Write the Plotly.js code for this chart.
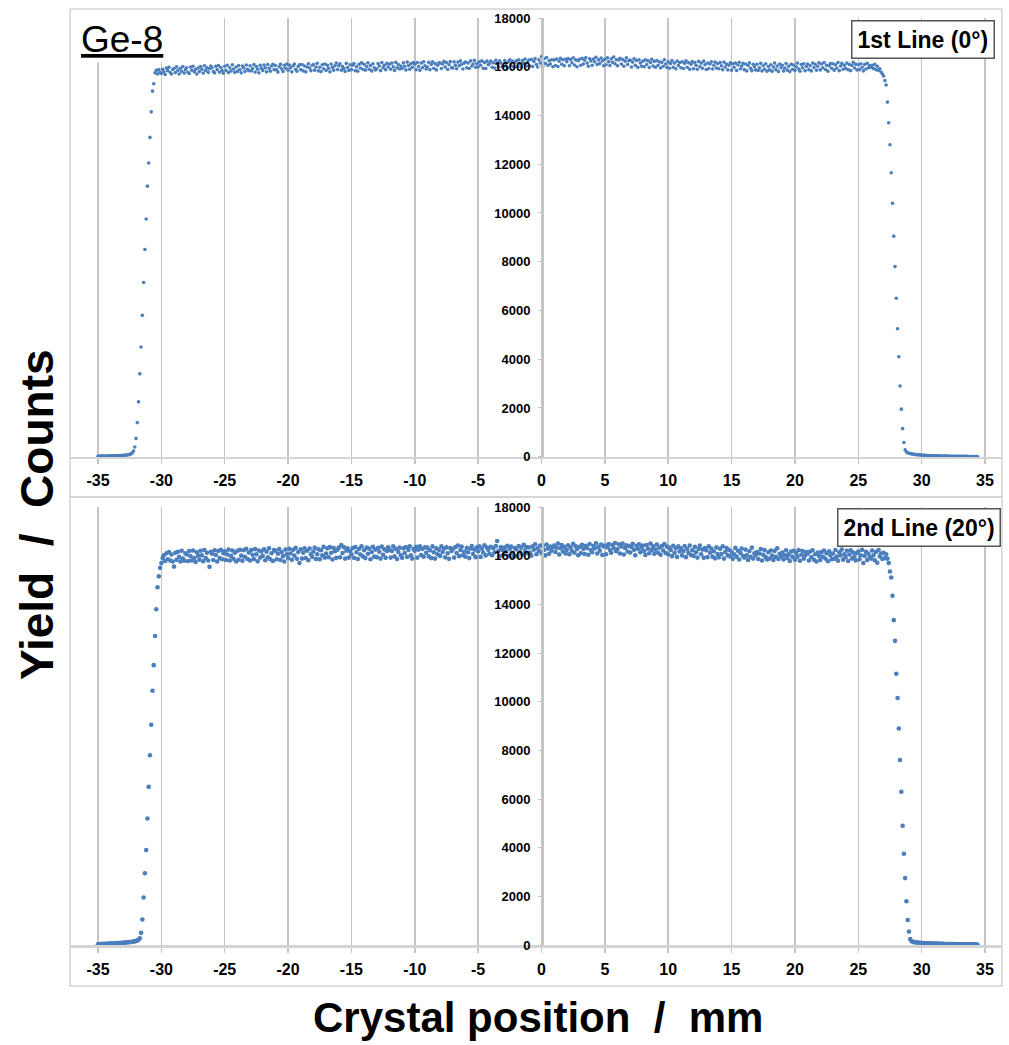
<!DOCTYPE html>
<html>
<head>
<meta charset="utf-8">
<script src="https://cdn.plot.ly/plotly-3.0.1.min.js"></script>
<style>html,body{margin:0;padding:0;background:#fff;}#chart{width:1009px;height:1045px;}</style>
</head>
<body>
<div id="chart"></div>
<script>
// Sample positions: first point and step along the crystal (mm)
const xStart = -35;
const xStep = 0.1;

// Yield counts, 1st line (0°) — each row is 1 mm (10 samples), starting at -35 mm
const yieldLine1 = [
  20,22,25,22,28,25,30,28,32,30,
  35,33,38,40,36,42,45,43,48,50,
  55,60,65,72,82,95,115,150,230,400,
  750,1400,2250,3400,4500,5800,7150,8500,9750,11100,
  12050,13100,14150,15000,15300,15750,15850,15700,15880,15760,
  15720,15900,15790,15680,15950,15840,15980,15760,15700,15890,
  15930,15760,16000,15850,15700,15940,15810,16010,15740,15880,
  15960,15770,15720,15990,15860,16020,15790,15900,15700,15950,
  15800,16010,15900,15740,16040,15850,15960,15770,15920,16030,
  15960,15800,15750,16020,15880,16050,15780,15970,15840,15730,
  16020,15850,16060,15760,15960,15830,16080,15910,15770,15990,
  15810,16050,15880,15750,16030,15950,15800,16070,15900,15840,
  16040,15830,15930,16090,15780,16010,15900,15750,16060,15940,
  15850,16070,15960,15790,16090,15940,15820,16030,16100,15880,
  16050,15870,15780,16000,16100,15920,15810,16060,15940,16110,
  15860,16070,15960,15790,16040,16110,15900,15820,16010,16080,
  15880,16090,15830,16030,15790,15990,16120,15950,15840,16060,
  16090,15860,15990,16140,15830,15980,15800,16080,15920,16110,
  15850,16060,15940,15790,16110,15980,15860,16040,16150,15890,
  16040,16120,15860,16010,15930,15810,16140,15970,15850,16080,
  15880,16060,16130,15840,16000,15820,16100,15950,16160,15900,
  16100,15860,16010,16160,15900,16050,15830,16120,15960,15870,
  15920,16130,16030,15840,16170,15960,16060,15880,16140,15990,
  16110,15900,16150,16000,15850,16180,15960,16090,15910,16030,
  15930,16160,16020,15870,16190,16050,15900,16130,15980,16170,
  16100,15880,16170,16010,15860,16150,15960,16200,16040,15910,
  15990,16180,15880,16090,16200,15940,16130,15870,16060,16160,
  16150,15930,16110,16220,15990,16170,15890,16080,16210,15960,
  15950,16200,16060,15920,16190,16040,16240,16100,15910,16150,
  16190,15960,16150,15930,16240,16030,16110,16260,15980,16130,
  15990,16200,16060,16240,15940,16170,15930,16230,16080,16120,
  16230,15980,16160,15950,16260,16110,15990,16240,16150,16000,
  16020,16250,16130,15960,16210,16290,16050,16230,15990,16170,
  16240,16000,16280,16110,15980,16250,16140,16320,16030,16190,
  16270,16030,16300,16010,16220,16340,16090,15990,16280,16150,
  16420,16020,16330,16140,16380,16060,16250,16110,16290,16000,
  16280,16050,16320,16010,16230,16350,16100,16290,16040,16310,
  16210,16340,16040,16300,16160,16370,16070,16280,16000,16250,
  16310,16060,16350,16110,16270,16380,16150,16020,16330,16240,
  16060,16320,16200,16390,16090,16280,16130,16360,16240,16040,
  16310,16080,16370,16210,16050,16330,16180,16400,16120,16290,
  16040,16280,16350,16110,16300,16020,16230,16370,16090,16250,
  16270,15990,16190,16330,16060,16260,15980,16290,16150,16020,
  16230,16000,16280,16090,16250,15970,16170,16310,16030,16220,
  15980,16250,16060,16200,15950,16180,16020,16290,16110,15970,
  16200,15940,16130,16250,15980,16150,15920,16230,16050,16170,
  15960,16200,15930,16140,16240,15980,16170,15900,16100,16210,
  15920,16170,16060,15900,16220,16010,16150,15940,16230,16080,
  15890,16150,15930,16110,16200,15910,16060,16190,15950,16130,
  15920,16170,16040,15880,16190,15990,16110,15870,16060,16160,
  15860,16120,15980,16150,15850,16070,16180,15920,16030,16140,
  15880,16110,15830,16050,16160,15940,15840,16100,16000,15870,
  16100,15850,15960,16140,15830,16040,15900,16120,15820,16010,
  15870,16080,15820,15990,16150,15880,16030,15810,16110,15960,
  16060,15830,15950,16130,15860,16020,15800,16100,15900,16070,
  15850,16000,16150,15910,15820,16090,15960,16120,15840,16010,
  16110,15880,16040,15830,16150,15970,16100,15860,16020,16160,
  15870,16110,15960,16170,15890,16060,15820,16040,16130,15940,
  16120,15860,16080,15950,16170,15840,16030,16140,15900,16060,
  15930,16150,15880,16090,15840,16050,16180,15950,16100,15870,
  16080,15880,16120,15980,15830,16090,15910,16140,15960,16050,
  15970,16060,15930,16100,15880,16020,15850,15920,15780,15700,
  15620,15430,15250,14550,13700,12800,11650,10400,9050,7800,
  6500,5250,4100,2900,1950,1150,580,280,190,160,
  140,130,115,110,100,90,85,80,75,70,
  65,60,58,55,52,50,47,45,42,40,
  38,36,35,33,32,30,28,27,26,25,
  24,22,21,20,20,19,18,17,16,16,
  15,15,14,13,13,12,12,11,11,10,
  10,10,9,9,8
];

// Yield counts, 2nd line (20°) — each row is 1 mm (10 samples), starting at -35 mm
const yieldLine2 = [
  30,35,40,38,45,42,50,48,55,52,
  60,58,65,70,68,75,80,78,85,90,
  95,100,98,110,115,120,125,130,140,150,
  165,190,220,280,500,1050,1950,2950,3900,5200,
  6500,7800,9050,10450,11500,12700,13800,14700,15150,15500,
  15700,15900,16020,15780,16100,15850,16150,15800,16050,15760,
  15550,16120,15830,16160,15950,15760,16200,15880,15790,16100,
  16050,15780,16190,15980,15800,16210,15900,15740,16140,16000,
  15830,16200,16010,15770,16230,15900,16120,15800,15540,16160,
  16080,15820,16220,16030,15760,16190,15900,16240,15850,16100,
  16180,15820,16050,16250,15800,15990,16210,15870,16120,15760,
  16200,15830,16240,16000,15790,16220,15950,16280,15860,16130,
  15800,16230,16040,15860,16270,16060,15770,16210,15920,16170,
  15990,16260,15810,16160,15930,16300,15850,16100,15780,16230,
  16200,15850,16080,16270,15820,16150,15980,15760,16250,16060,
  15900,16280,16090,15830,16240,16000,16320,15870,16150,15700,
  16260,15880,16120,16300,15900,16200,15810,16290,16060,15950,
  16170,16330,15860,16060,16260,15850,16220,16010,16360,15920,
  16090,16300,15940,16350,16120,15840,16310,16180,15910,16240,
  16330,15930,16440,16110,16350,15880,16200,16300,15920,16180,
  16060,16310,15910,16350,16140,15860,16280,16050,16380,15970,
  16220,15900,16330,16080,16290,15850,16150,16360,15960,16250,
  15940,16320,16160,15880,16370,16040,16260,15910,16190,16340,
  16240,15920,16190,16380,15970,16280,15860,16150,16330,16020,
  15910,16300,16110,16350,15950,16230,16390,16010,15880,16270,
  16200,16360,15920,16250,16390,16030,16280,15960,16340,16120,
  16330,15970,16220,15900,16380,16140,15880,16300,16060,16240,
  15990,16380,16150,16290,15930,16340,16100,15870,16310,16190,
  16270,15920,16350,16110,16420,15980,16230,16370,16020,16160,
  15960,16320,16140,15900,16290,16400,16070,16250,15940,16340,
  16180,16380,15950,16290,16130,16430,16010,16330,16240,16080,
  16360,16020,16310,16140,16400,16600,16200,15980,16350,16230,
  16050,16330,16180,16410,15990,16280,16370,16120,15960,16310,
  16260,15990,16400,16150,16330,16040,16450,16190,16350,16100,
  16340,16130,16000,16380,16250,16470,16060,16300,16180,16420,
  16120,16400,16230,16010,16460,16290,16080,16370,16200,16350,
  16420,16150,16330,16500,16050,16300,16440,16170,16360,16090,
  16240,16430,16060,16340,16190,16490,16120,16390,16270,16020,
  16360,16110,16450,16280,16070,16410,16310,16040,16480,16230,
  16140,16400,16300,16510,16090,16350,16200,16460,16030,16380,
  16420,16060,16350,16480,16230,16120,16440,16310,16520,16180,
  16270,16470,16090,16380,16500,16050,16320,16430,16170,16400,
  16130,16360,16490,16240,16020,16410,16280,16470,16140,16330,
  16420,16190,16030,16440,16290,16100,16500,16230,16390,16080,
  16250,16460,16120,16330,16040,16400,16210,16480,16110,16370,
  16060,16330,16230,15980,16410,16120,16300,15950,16380,16170,
  16300,16010,16190,16400,15940,16270,16110,16420,16030,16220,
  15990,16360,16140,15920,16280,16420,16060,16250,15910,16310,
  16220,15940,16380,16120,16290,15960,16180,15890,16340,16070,
  15930,16280,16070,16390,15880,16150,16310,16010,16240,15970,
  16160,15870,16060,16320,15960,16200,15840,16110,16290,15990,
  15920,16250,16010,15820,16180,15950,16330,15880,16100,16020,
  16150,15860,16090,16270,15800,16040,16230,15940,15840,16140,
  15880,16210,16000,15820,16190,15950,16300,15860,16080,15970,
  16130,15840,16020,16220,15900,16060,15780,16170,15960,16200,
  15830,16120,15960,16230,15790,16040,16190,15880,16010,16150,
  16080,15800,16170,15940,16220,15830,16060,15760,16130,15990,
  15820,16150,15960,16210,15880,16100,15770,16180,16020,15850,
  16090,15870,16230,15960,15790,16140,16010,16250,15830,16060,
  15940,16200,15780,16050,16220,15880,16130,15960,15800,16110,
  16170,15850,16020,16240,15700,15990,16160,15820,16090,15950,
  15880,16210,16020,15810,16150,15710,16230,15970,16090,15860,
  16120,15900,16060,15880,15700,15350,15100,14350,13350,12500,
  11150,10150,8900,7600,6300,4900,3750,2750,1800,1030,
  550,240,160,130,120,110,105,100,95,90,
  85,80,78,75,72,70,68,65,62,60,
  58,55,55,52,50,48,48,45,44,42,
  40,40,38,37,36,35,34,33,32,31,
  30,30,29,28,28,27,26,26,25,25,
  24,24,23,23,22
];

const xTickVals = [-35,-30,-25,-20,-15,-10,-5,0,5,10,15,20,25,30,35];
const xTickText = ['-35','-30','-25','-20','-15','-10','-5','0','5','10','15','20','25','30','35'];
const yTickVals = [0,2000,4000,6000,8000,10000,12000,14000,16000,18000];
const yTickText = ['0','2000','4000','6000','8000','10000','12000','14000','16000','18000'];
const panelLabels = ['1st Line (0°)', '2nd Line (20°)'];
const sampleName = 'Ge-8';
const xTitle = 'Crystal position\u00a0\u00a0/\u00a0\u00a0mm';
const yTitle = 'Yield\u00a0\u00a0/\u00a0\u00a0Counts';

const W = 1009, H = 1045;
const px = v => v / W;
const py = v => 1 - v / H;

const FONT = 'Liberation Sans, Arial, sans-serif';
const dotColor = '#4a7ebd';
const gridColor = '#c4c4c4';

const traces = [
  {type:'scatter', mode:'markers', x0:xStart, dx:xStep, y:yieldLine1, xaxis:'x', yaxis:'y',
   marker:{color:dotColor, size:3.6}, cliponaxis:false, hoverinfo:'x+y'},
  {type:'scatter', mode:'markers', x0:xStart, dx:xStep, y:yieldLine2, xaxis:'x2', yaxis:'y2',
   marker:{color:dotColor, size:4.6}, cliponaxis:false, hoverinfo:'x+y'}
];

const pxPerMm = (985 - 98) / 70;
const xRange = [-35 - (98 - 70) / pxPerMm, 35 + (1002 - 985) / pxPerMm];

function xAxis(anchor) {
  return {
    domain:[px(70), px(1002)], range:xRange, anchor:anchor,
    tickmode:'array', tickvals:xTickVals, ticktext:xTickText,
    showgrid:true, gridcolor:gridColor, gridwidth:1.5,
    showline:true, linecolor:'#d4d4d4', linewidth:2.5,
    ticks:'outside', ticklen:5, tickcolor:gridColor, tickwidth:1.5,
    ticklabelstandoff:3,
    zeroline:false,
    tickfont:{family:FONT, size:16, color:'#000', weight:'bold'}
  };
}
function yAxis(dom) {
  return {
    domain:dom, range:[0,18000], anchor:'free', position:px(542),
    tickmode:'array', tickvals:yTickVals, ticktext:yTickText,
    showgrid:false, zeroline:false,
    showline:true, linecolor:gridColor, linewidth:1.5,
    ticks:'outside', ticklen:4, tickcolor:gridColor,
    ticklabelstandoff:5,
    tickfont:{family:FONT, size:13, color:'#000', weight:'bold'}
  };
}

const layout = {
  width:W, height:H,
  margin:{l:0, r:0, t:0, b:0},
  paper_bgcolor:'#fff', plot_bgcolor:'#fff',
  showlegend:false,
  xaxis: xAxis('y'),
  yaxis: yAxis([py(456.7), py(18)]),
  xaxis2: xAxis('y2'),
  yaxis2: yAxis([py(945), py(507)]),
  shapes:[
    {type:'rect', xref:'paper', yref:'paper', x0:px(70), x1:px(1002), y0:py(497), y1:py(9),
     line:{color:'#d4d4d4', width:1.5}},
    {type:'rect', xref:'paper', yref:'paper', x0:px(70), x1:px(1002), y0:py(986), y1:py(497),
     line:{color:'#d4d4d4', width:1.5}}
  ],
  annotations:[
    {xref:'paper', yref:'paper', x:px(78), y:py(40), xanchor:'left', yanchor:'middle',
     text:'<u>' + sampleName + '</u>', showarrow:false, bgcolor:'#fff', borderpad:2,
     font:{family:FONT, size:37, color:'#000'}},
    {xref:'paper', yref:'paper', x:px(923), y:py(39.5), xanchor:'center', yanchor:'middle',
     text:'<b>' + panelLabels[0] + '</b>', showarrow:false, bgcolor:'#fff',
     bordercolor:'#555', borderwidth:1.5, borderpad:5,
     font:{family:FONT, size:23, color:'#000'}},
    {xref:'paper', yref:'paper', x:px(919), y:py(527), xanchor:'center', yanchor:'middle',
     text:'<b>' + panelLabels[1] + '</b>', showarrow:false, bgcolor:'#fff',
     bordercolor:'#555', borderwidth:1.5, borderpad:5,
     font:{family:FONT, size:23, color:'#000'}},
    {xref:'paper', yref:'paper', x:px(37), y:py(515), xanchor:'center', yanchor:'middle',
     text:'<b>' + yTitle + '</b>', textangle:-90, showarrow:false,
     font:{family:FONT, size:46, color:'#000'}},
    {xref:'paper', yref:'paper', x:px(538), y:py(1017), xanchor:'center', yanchor:'middle',
     text:'<b>' + xTitle + '</b>', showarrow:false,
     font:{family:FONT, size:42, color:'#000'}}
  ]
};

Plotly.newPlot('chart', traces, layout, {staticPlot:true, displayModeBar:false});
</script>
</body>
</html>
